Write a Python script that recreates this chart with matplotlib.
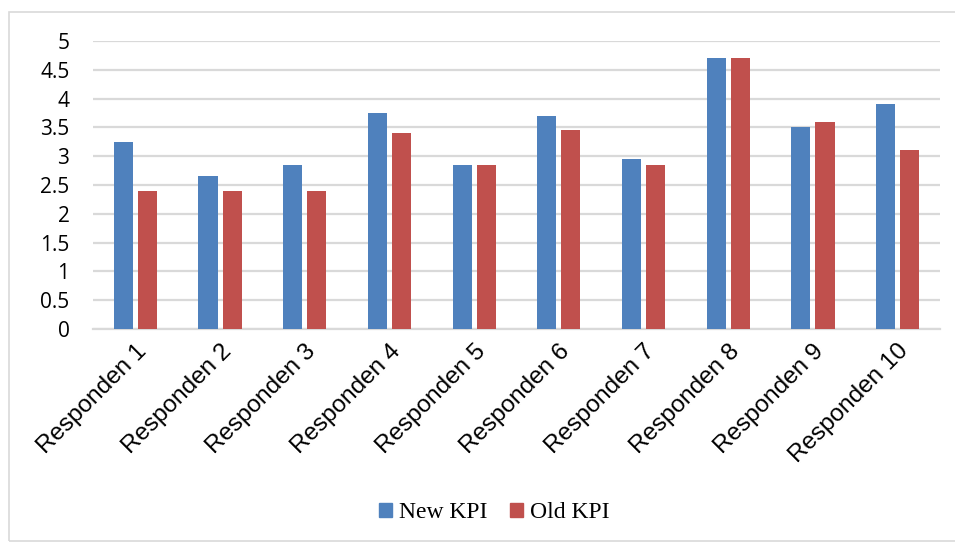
import numpy as np
import matplotlib.pyplot as plt
from matplotlib.patches import Rectangle, Patch

kategori = ["Responden 1", "Responden 2", "Responden 3", "Responden 4", "Responden 5",
            "Responden 6", "Responden 7", "Responden 8", "Responden 9", "Responden 10"]
new_kpi = [3.25, 2.65, 2.85, 3.75, 2.85, 3.7, 2.95, 4.7, 3.5, 3.9]
old_kpi = [2.4, 2.4, 2.4, 3.4, 2.85, 3.45, 2.85, 4.7, 3.6, 3.1]

biru = "#4f81bd"
merah = "#c0504d"

fig = plt.figure(figsize=(9.55, 5.42), dpi=100)
ax = fig.add_axes([93 / 955, 1 - 329 / 542, (940 - 93) / 955, (329 - 41) / 542])

# bingkai luar chart
fig.patches.append(Rectangle((9 / 955, 0.002), 0.997, 1 - 12 / 542 - 0.002,
                             transform=fig.transFigure, fill=False,
                             edgecolor="#d9d9d9", linewidth=1.2))

x = np.arange(len(kategori))
w = 0.225
ax.bar(x - 0.142, new_kpi, w, color=biru, zorder=3)
ax.bar(x + 0.142, old_kpi, w, color=merah, zorder=3)

ax.set_xlim(-0.5, len(kategori) - 0.5)
ax.set_ylim(0, 5)
ax.set_yticks(np.arange(0, 5.01, 0.5))
ax.set_yticklabels(["0", "0.5", "1", "1.5", "2", "2.5", "3", "3.5", "4", "4.5", "5"],
                   fontsize=15, family="Open Sans")
ax.yaxis.grid(True, color="#d9d9d9", linewidth=1.6, zorder=0)
ax.tick_params(length=0)
ax.tick_params(axis="y", pad=17)
for s in ["top", "right", "left"]:
    ax.spines[s].set_visible(False)
ax.spines["bottom"].set_color("#d9d9d9")
ax.spines["bottom"].set_linewidth(1.6)

ax.set_xticks(x)
ax.set_xticklabels(kategori, rotation=45, ha="right", rotation_mode="anchor",
                   fontsize=17.5, family="Liberation Sans")
ax.tick_params(axis="x", pad=8)

handles = [Patch(color=biru, label="New KPI"), Patch(color=merah, label="Old KPI")]
fig.legend(handles=handles, loc="center", bbox_to_anchor=(494 / 955, 1 - 513 / 542),
           ncol=2, frameon=False, prop={"family": "Liberation Serif", "size": 17},
           handlelength=0.55, handleheight=0.55, handletextpad=0.3, columnspacing=0.95)

fig.savefig("out.png", dpi=100)
